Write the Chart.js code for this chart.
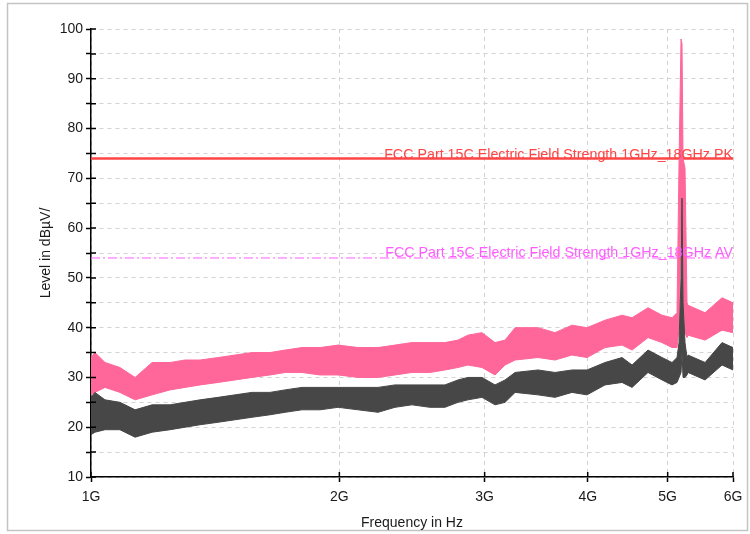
<!DOCTYPE html>
<html>
<head>
<meta charset="utf-8">
<script src="https://cdn.jsdelivr.net/npm/chart.js@4/dist/chart.umd.min.js"></script>
<style>
html,body{margin:0;padding:0;background:#fff;}
#wrap{width:750px;height:534px;position:relative;}
</style>
</head>
<body>
<div id="wrap"><canvas id="c" width="750" height="534"></canvas></div>
<script>
// Frequencies in GHz
const freqGHz = [1.000,1.011,1.040,1.084,1.131,1.186,1.247,1.300,1.356,1.426,1.495,1.567,1.648,1.719,1.802,1.895,1.993,2.107,2.228,2.336,2.449,2.575,2.685,2.785,2.863,2.978,3.088,3.176,3.266,3.482,3.651,3.828,3.992,4.198,4.402,4.527,4.733,4.922,5.061,5.132,5.161,5.190,5.204,5.219,5.248,5.277,5.292,5.550,5.819,6.000];
// Peak trace (pink) upper / lower envelope, dBµV/m
const peakHigh = [34,35,33,32,30,33,33,33.5,33.5,34,34.5,35,35,35.5,36,36,36.5,36,36,36.5,37,37,37,37.5,38.5,39,37,37.5,40,40,39,40.5,40,41.5,42.5,42,44,42.5,42,43,73,98,97,74,72,45,44.5,43,46,45];
const peakLow  = [26.5,27,28,27,25.5,26.5,27.5,28,28.5,29,29.5,30,30.5,31,31,30.5,30.5,30,30,30.5,31,31,31.5,32,32.5,32,30.5,32.5,33.5,34,33.5,34.5,34,36,36.5,35.5,38,37,36,36,40,60,65,45,39,38,38.5,37.5,39.5,39];
// Average trace (dark grey) upper / lower envelope
const avgHigh = [26,27,25.5,25,23.5,24.5,24.5,25,25.5,26,26.5,27,27,27.5,28,28,28,28,28,28.5,28.5,28.5,28.5,29.5,30,30,28.5,29.5,31,31.5,31,31.5,31.5,33,34,32.5,35.5,34,33,34,37,50,66,45,37,34,34.5,33,37,36];
const avgLow  = [18.5,19,19.5,19.5,18,19,19.5,20,20.5,21,21.5,22,22.5,23,23.5,23.5,24,23.5,23,24,24.5,24,24,25,25.5,26,24.5,25,27,26.5,26,27,26.5,28.5,29,28,31,29.5,28.5,29,30,31,35,30,30,30.5,31,29.5,32.5,31.5];
// Limit lines
const limitPK = 74;
const limitAV = 54;
const limitPKLabel = "FCC Part 15C Electric Field Strength 1GHz_18GHz PK";
const limitAVLabel = "FCC Part 15C Electric Field Strength 1GHz_18GHz AV";
const xTickGHz = [1,2,3,4,5,6];
const yMin = 10, yMax = 100;

const pts = arr => arr.map((v,i)=>({x:freqGHz[i]*1e9, y:v}));
const lim = v => [{x:1e9,y:v},{x:6e9,y:v}];

const PINK = '#ff6699', DARK = '#474747', RED = '#ff4545', MAG = '#ff5cff';

const extras = {
  id:'extras',
  beforeDraw(chart){
    const ctx = chart.ctx;
    ctx.save();
    ctx.fillStyle='#fff'; ctx.fillRect(0,0,chart.width,chart.height);
    ctx.strokeStyle='#c4c4c4'; ctx.lineWidth=1.5;
    ctx.strokeRect(7.5,3.5,740,527);
    ctx.restore();
  },
  afterDatasetsDraw(chart){
    const ctx = chart.ctx, y = chart.scales.y, a = chart.chartArea;
    ctx.save();
    ctx.textAlign='right'; ctx.textBaseline='alphabetic';
    ctx.font='13px "Liberation Sans", Arial, sans-serif';
    const w = ctx.measureText(limitPKLabel).width;
    const fs = 13*349/w;
    ctx.font = fs.toFixed(2)+'px "Liberation Sans", Arial, sans-serif';
    ctx.fillStyle=RED; ctx.fillText(limitPKLabel, a.right, y.getPixelForValue(limitPK)+1);
    ctx.fillStyle=MAG; ctx.fillText(limitAVLabel, a.right, y.getPixelForValue(limitAV)-1);
    ctx.restore();
  },
  afterDraw(chart){
    const ctx = chart.ctx, x = chart.scales.x, y = chart.scales.y, a = chart.chartArea;
    ctx.save();
    ctx.strokeStyle='#000'; ctx.lineWidth=1.5;
    ctx.beginPath();
    y.ticks.forEach(t=>{ const p=y.getPixelForValue(t.value); ctx.moveTo(a.left,p); ctx.lineTo(a.left+5,p);});
    x.ticks.forEach(t=>{ const p=x.getPixelForValue(t.value); ctx.moveTo(p,a.bottom); ctx.lineTo(p,a.bottom-5);});
    ctx.stroke();
    ctx.restore();
  }
};

new Chart(document.getElementById('c'), {
  type:'line',
  data:{datasets:[
    {data:pts(avgHigh), borderColor:DARK, backgroundColor:DARK, borderWidth:1, fill:'+1', pointRadius:0, tension:0},
    {data:pts(avgLow), borderColor:DARK, backgroundColor:DARK, borderWidth:1, fill:false, pointRadius:0, tension:0},
    {data:pts(peakHigh), borderColor:PINK, backgroundColor:PINK, borderWidth:1, fill:'+1', pointRadius:0, tension:0},
    {data:pts(peakLow), borderColor:PINK, backgroundColor:PINK, borderWidth:1, fill:false, pointRadius:0, tension:0},
    {data:lim(limitPK), borderColor:RED, borderWidth:2.5, fill:false, pointRadius:0},
    {data:lim(limitAV), borderColor:MAG, borderWidth:1, borderDash:[9,3,2,3], fill:false, pointRadius:0}
  ]},
  options:{
    responsive:false, animation:false, devicePixelRatio:1,
    layout:{padding:{left:0,top:29,right:17,bottom:0}},
    plugins:{legend:{display:false}, tooltip:{enabled:false}},
    scales:{
      x:{type:'logarithmic', min:1e9, max:6e9,
        afterBuildTicks:s=>{ s.ticks = xTickGHz.map(v=>({value:v*1e9})); },
        afterFit:s=>{ s.height = 57; },
        ticks:{autoSkip:false, maxRotation:0, padding:7, color:'#1a1a1a',
          font:{family:'"Liberation Sans", Arial, sans-serif', size:14},
          callback:v=>(v/1e9)+'G'},
        grid:{color:'#d2d2d2', lineWidth:1, tickColor:'#000', tickLength:5, tickWidth:1.5},
        border:{display:true, color:'#000', width:1.5, dash:[4,4]},
        title:{display:true, text:'Frequency in Hz', color:'#1a1a1a', padding:{top:0,bottom:2},
          font:{family:'"Liberation Sans", Arial, sans-serif', size:14}}
      },
      y:{min:yMin, max:yMax,
        afterFit:s=>{ s.width = 91; },
        ticks:{stepSize:5, autoSkip:false, padding:3, color:'#1a1a1a',
          font:{family:'"Liberation Sans", Arial, sans-serif', size:14},
          callback:v=>(v%10===0? String(v) : '')},
        grid:{color:'#d2d2d2', lineWidth:1, tickColor:'#000', tickLength:5, tickWidth:1.5},
        border:{display:true, color:'#000', width:1.5, dash:[4,4]},
        title:{display:true, text:'Level in dBµV/', color:'#1a1a1a', padding:{top:38,bottom:0},
          font:{family:'"Liberation Sans", Arial, sans-serif', size:14}}
      }
    }
  },
  plugins:[extras]
});
</script>
</body>
</html>
